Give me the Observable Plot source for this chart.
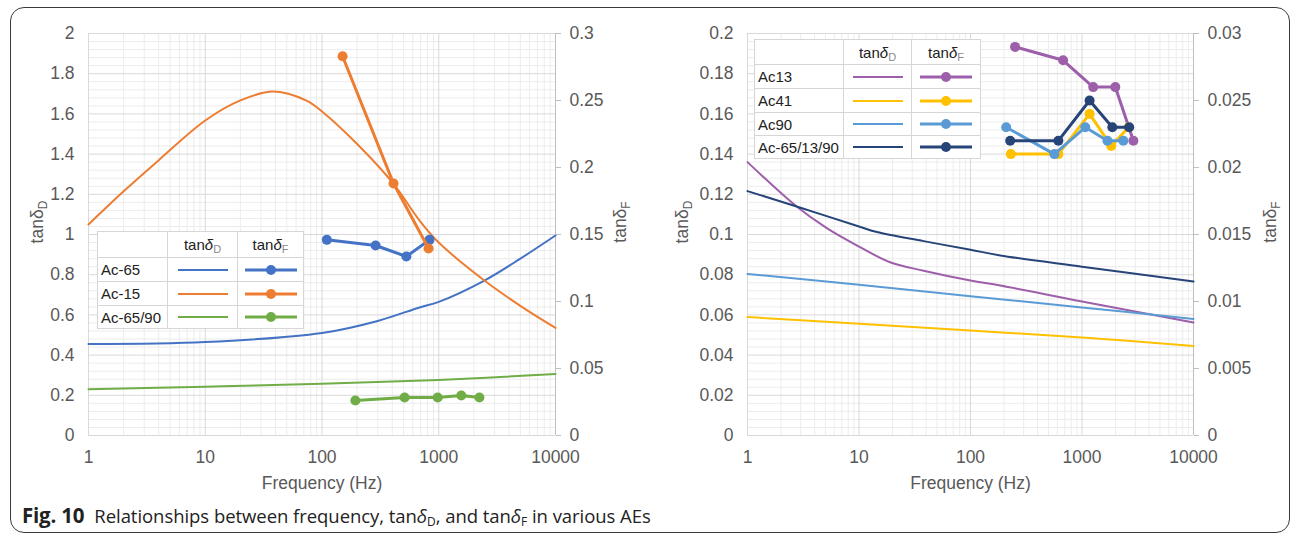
<!DOCTYPE html>
<html><head><meta charset="utf-8">
<script src="https://cdn.jsdelivr.net/npm/d3@7"></script>
<script src="https://cdn.jsdelivr.net/npm/@observablehq/plot@0.6"></script>
<style>
body{margin:0;background:#fff;}
#page{position:relative;width:1295px;height:535px;overflow:hidden;background:#fff;font-family:'Liberation Sans',Arial,sans-serif;}
.frame{position:absolute;left:10px;top:7px;width:1280px;height:526px;border:1px solid #3a3a3a;border-radius:14px;box-sizing:border-box;}
.chart{position:absolute;top:0;}
table.lg{position:absolute;border-collapse:collapse;background:#fff;font-size:15px;color:#222;table-layout:fixed;}
table.lg td{border:1px solid #d6d6d6;padding:0 0 0 3px;white-space:nowrap;overflow:hidden;}
table.lg td.c{text-align:center;padding:0;}
table.lg td.c svg{display:block;margin:0 auto;}
table.lg sub{font-size:11px;color:#8a8a8a;vertical-align:-3px;line-height:0;}
.cap{position:absolute;left:22px;top:501px;font-family:'Open Sans','Noto Sans',sans-serif;font-size:18.5px;color:#222;white-space:nowrap;letter-spacing:-0.05px;}
.cap b{margin-right:10px;font-size:20.5px;letter-spacing:-0.2px;}
.cap sub{font-size:12px;vertical-align:-3px;line-height:0;}
</style>
</head><body>
<div id="page">
  <div class="frame"></div>
  <div id="left" class="chart" style="left:0px"></div>
  <div id="right" class="chart" style="left:648px"></div>
  <div class="cap"><b>Fig. 10</b>Relationships between frequency, tan<i>δ</i><sub>D</sub>, and tan<i>δ</i><sub>F</sub> in various AEs</div>
</div>
<script>
// ---------------- shared ticks ----------------
const xTicks = [1, 10, 100, 1000, 10000];
const leftYTicks = [0, 0.2, 0.4, 0.6, 0.8, 1, 1.2, 1.4, 1.6, 1.8, 2];
const leftFTicks = [0, 0.05, 0.1, 0.15, 0.2, 0.25, 0.3];
const rightYTicks = [0, 0.02, 0.04, 0.06, 0.08, 0.1, 0.12, 0.14, 0.16, 0.18, 0.2];
const rightFTicks = [0, 0.005, 0.01, 0.015, 0.02, 0.025, 0.03];

// ---------------- left chart data ----------------
const leftNames = ["Ac-65", "Ac-15", "Ac-65/90"];
const leftColors = ["#4472C4", "#ED7D31", "#70AD47"];
// tanδD curves
const ac65_D_freq = [1, 10, 100, 300, 684, 1000, 2460, 5000, 10000];
const ac65_D = [0.455, 0.465, 0.51, 0.57, 0.637, 0.665, 0.771, 0.88, 0.995];
const ac15_D_freq = [1, 2, 4, 10, 20, 38, 73, 100, 200, 407, 684, 1000, 2460, 5000, 10000];
const ac15_D = [1.05, 1.215, 1.37, 1.567, 1.667, 1.711, 1.667, 1.612, 1.45, 1.254, 1.07, 0.96, 0.771, 0.645, 0.535];
const ac6590_D_freq = [1, 10, 100, 1000, 10000];
const ac6590_D = [0.23, 0.243, 0.257, 0.276, 0.306];
// tanδF points
const ac65_F_freq = [110, 288, 528, 834];
const ac65_F = [0.146, 0.1418, 0.1336, 0.146];
const ac15_F_freq = [150, 410, 818];
const ac15_F = [0.283, 0.188, 0.1396];
const ac6590_F_freq = [193, 510, 980, 1560, 2230];
const ac6590_F = [0.0261, 0.0284, 0.0284, 0.0299, 0.0284];

// ---------------- right chart data ----------------
const rightNames = ["Ac13", "Ac41", "Ac90", "Ac-65/13/90"];
const rightColors = ["#9E5FAA", "#FFC000", "#5B9BD5", "#264478"];
const ac13_D_freq = [1, 2.76, 5.1, 10, 19, 38, 100, 185, 1000, 10000];
const ac13_D = [0.136, 0.1139, 0.1033, 0.094, 0.0862, 0.082, 0.0771, 0.0746, 0.0667, 0.0562];
const ac41_D_freq = [1, 10, 100, 1000, 10000];
const ac41_D = [0.0589, 0.0556, 0.0522, 0.0488, 0.0445];
const ac90_D_freq = [1, 10, 100, 1000, 10000];
const ac90_D = [0.0804, 0.075, 0.0693, 0.0637, 0.058];
const acMix_D_freq = [1, 2.76, 10, 14.5, 38, 100, 185, 1000, 10000];
const acMix_D = [0.1216, 0.1139, 0.104, 0.1012, 0.0967, 0.0924, 0.0896, 0.084, 0.0766];
const ac13_F_freq = [251, 677, 1260, 1990, 2890];
const ac13_F = [0.029, 0.028, 0.026, 0.026, 0.022];
const ac41_F_freq = [230, 614, 1170, 1830, 2620];
const ac41_F = [0.021, 0.021, 0.024, 0.0216, 0.023];
const ac90_F_freq = [209, 565, 1070, 1690, 2350];
const ac90_F = [0.023, 0.021, 0.023, 0.022, 0.022];
const acMix_F_freq = [227, 614, 1170, 1870, 2650];
const acMix_F = [0.022, 0.022, 0.025, 0.023, 0.023];

// ---------------- helpers ----------------
const xMinor = [];
for (const d of [1, 10, 100, 1000]) for (let k = 2; k < 10; k++) xMinor.push(k * d);
const minorOf = (ticks) => {
  const out = [];
  for (let i = 0; i < ticks.length - 1; i++) {
    const step = (ticks[i + 1] - ticks[i]) / 5;
    for (let k = 1; k < 5; k++) out.push(ticks[i] + k * step);
  }
  return out;
};
const rows = (freq, val) => freq.map((f, i) => ({f, v: val[i]}));
const fmt = (d) => String(+d.toFixed(4));

function buildChart(cfg) {
  const marks = [
    Plot.ruleX(xMinor, {stroke: "#ececec"}),
    Plot.ruleY(minorOf(cfg.yTicks), {stroke: "#ececec"}),
    Plot.ruleX(xTicks, {stroke: "#d9d9d9"}),
    Plot.ruleY(cfg.yTicks, {stroke: "#d9d9d9"}),
    Plot.ruleX([xTicks[xTicks.length - 1]], {stroke: "#bfbfbf"})
  ];
  cfg.d.forEach(s => marks.push(Plot.line(rows(s.freq, s.val), {x: "f", y: "v", stroke: s.color, strokeWidth: 2, curve: "catmull-rom"})));
  cfg.f.forEach(s => {
    const r = rows(s.freq, s.val);
    marks.push(Plot.line(r, {x: "f", y: d => d.v * cfg.ratio, stroke: s.color, strokeWidth: 3}));
    marks.push(Plot.dot(r, {x: "f", y: d => d.v * cfg.ratio, r: 5, fill: s.color, stroke: "none"}));
  });
  marks.push(Plot.axisX(xTicks, {tickSize: 0, tickPadding: 15, tickFormat: d => String(d), label: "Frequency (Hz)", labelAnchor: "center", labelArrow: "none", labelOffset: 53}));
  marks.push(Plot.axisY(cfg.yTicks, {anchor: "left", tickSize: 0, tickPadding: 14, tickFormat: fmt, label: null}));
  marks.push(Plot.axisY(cfg.fTicks.map(t => t * cfg.ratio), {anchor: "right", tickSize: 5, tickPadding: 9, stroke: "#bfbfbf", fill: "#595959", tickFormat: d => fmt(d / cfg.ratio), label: null}));
  const svg = Plot.plot({
    width: cfg.width, height: 500,
    marginLeft: cfg.ml, marginRight: cfg.mr, marginTop: 33, marginBottom: 65,
    x: {type: "log", domain: [1, 10000]},
    y: {domain: [0, cfg.yTicks[cfg.yTicks.length - 1]]},
    style: {fontFamily: "'Liberation Sans', Arial, sans-serif", fontSize: "17.5px", color: "#595959", background: "none", overflow: "visible"},
    marks
  });
  const s = d3.select(svg);
  [[cfg.t1x, "D"], [cfg.t2x, "F"]].forEach(([x, sub]) => {
    const t = s.append("text").attr("transform", `translate(${x},222) rotate(-90)`)
      .attr("text-anchor", "middle").attr("fill", "#595959").attr("font-size", 17.5);
    t.append("tspan").text("tanδ");
    t.append("tspan").attr("font-size", 12).attr("dy", 4).text(sub);
  });
  return svg;
}

document.getElementById("left").appendChild(buildChart({
  width: 648, ml: 88, mr: 93, ratio: 2 / 0.3,
  yTicks: leftYTicks, fTicks: leftFTicks, t1x: 43, t2x: 626,
  d: [
    {freq: ac65_D_freq, val: ac65_D, color: leftColors[0]},
    {freq: ac15_D_freq, val: ac15_D, color: leftColors[1]},
    {freq: ac6590_D_freq, val: ac6590_D, color: leftColors[2]}
  ],
  f: [
    {freq: ac65_F_freq, val: ac65_F, color: leftColors[0]},
    {freq: ac15_F_freq, val: ac15_F, color: leftColors[1]},
    {freq: ac6590_F_freq, val: ac6590_F, color: leftColors[2]}
  ]
}));
document.getElementById("right").appendChild(buildChart({
  width: 647, ml: 99, mr: 102, ratio: 0.2 / 0.03,
  yTicks: rightYTicks, fTicks: rightFTicks, t1x: 40, t2x: 628,
  d: [
    {freq: ac13_D_freq, val: ac13_D, color: rightColors[0]},
    {freq: ac41_D_freq, val: ac41_D, color: rightColors[1]},
    {freq: ac90_D_freq, val: ac90_D, color: rightColors[2]},
    {freq: acMix_D_freq, val: acMix_D, color: rightColors[3]}
  ],
  f: [
    {freq: ac13_F_freq, val: ac13_F, color: rightColors[0]},
    {freq: ac41_F_freq, val: ac41_F, color: rightColors[1]},
    {freq: ac90_F_freq, val: ac90_F, color: rightColors[2]},
    {freq: acMix_F_freq, val: acMix_F, color: rightColors[3]}
  ]
}));

// ---------------- legend tables ----------------
function legend(names, colors, left, top, colW, rowH) {
  const page = d3.select("#page");
  const t = page.append("table").attr("class", "lg").style("left", left + "px").style("top", top + "px");
  const cg = t.append("colgroup");
  colW.forEach(w => cg.append("col").style("width", w + "px"));
  const h = t.append("tr").style("height", rowH[0] + "px");
  h.append("td");
  h.append("td").attr("class", "c").html("tan<i>δ</i><sub>D</sub>");
  h.append("td").attr("class", "c").html("tan<i>δ</i><sub>F</sub>");
  names.forEach((n, i) => {
    const tr = t.append("tr").style("height", rowH[i + 1] + "px");
    tr.append("td").text(n);
    const s1 = tr.append("td").attr("class", "c").append("svg").attr("width", 50).attr("height", 12);
    s1.append("line").attr("x1", 0).attr("x2", 50).attr("y1", 6).attr("y2", 6).attr("stroke", colors[i]).attr("stroke-width", 2);
    const s2 = tr.append("td").attr("class", "c").append("svg").attr("width", 52).attr("height", 12);
    s2.append("line").attr("x1", 0).attr("x2", 52).attr("y1", 6).attr("y2", 6).attr("stroke", colors[i]).attr("stroke-width", 3);
    s2.append("circle").attr("cx", 26).attr("cy", 6).attr("r", 5).attr("fill", colors[i]);
  });
}
legend(leftNames, leftColors, 97, 231, [70, 70, 66], [26, 24, 24, 23]);
legend(rightNames, rightColors, 754, 39, [89, 68, 69], [25, 24, 24, 23, 23]);
</script>
</body></html>
